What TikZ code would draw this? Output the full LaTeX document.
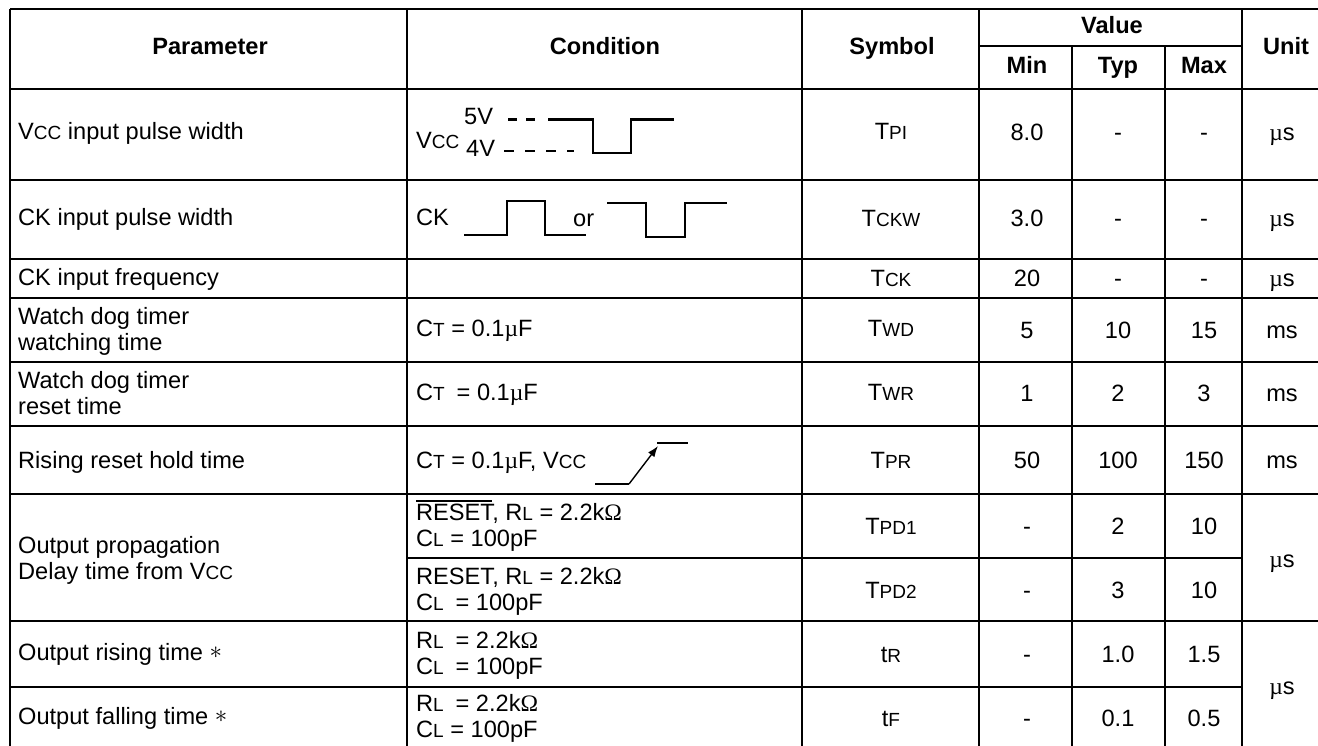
\documentclass[tikz,border=0pt]{standalone}
\usepackage{fontspec}
\setmainfont{Liberation Sans}
\newfontfamily\greekfont{Liberation Serif}
\usepackage{tikz}
\usetikzlibrary{arrows.meta}
\tikzset{>=latex}
\tikzset{
	rule/.style={line width=1.9pt},
	wave/.style={line width=2.5pt},
	txt/.style={anchor=base west, inner sep=0pt, align=left, yshift=-2pt},
	mid/.style={anchor=base, inner sep=0pt, yshift=-2pt},
	head/.style={anchor=base, inner sep=0pt, yshift=-2pt, font=\fontsize{23.6}{28}\selectfont\bfseries}
}
% smaller letters of the names (Vcc, Ct, Tpi ...)
\newcommand{\lo}[1]{{\fontsize{19}{19}\selectfont #1}}
\newcommand{\mic}{{\greekfont µ}}
\newcommand{\ohm}{{\greekfont Ω}}
\newcommand{\note}{\raisebox{2pt}{$*$}}

\begin{document}
\begin{tikzpicture}[x=1pt, y=-1pt, font=\fontsize{23.6}{25.5}\selectfont]
	\useasboundingbox (0,0) rectangle (1318,746);
	%\draw[help lines] (0,0) grid (1318,746);
	% table rules
	\draw[rule] (10,9) -- (1318,9);
	\draw[rule] (979,46) -- (1242,46);
	\draw[rule] (10,89) -- (1318,89);
	\draw[rule] (10,180) -- (1318,180);
	\draw[rule] (10,259) -- (1318,259);
	\draw[rule] (10,298) -- (1318,298);
	\draw[rule] (10,362) -- (1318,362);
	\draw[rule] (10,426) -- (1318,426);
	\draw[rule] (10,494) -- (1318,494);
	\draw[rule] (407,558) -- (1242,558);
	\draw[rule] (10,621) -- (1318,621);
	\draw[rule] (10,687) -- (1242,687);
	\draw[rule] (10,9) -- (10,746);
	\draw[rule] (407,9) -- (407,746);
	\draw[rule] (802,9) -- (802,746);
	\draw[rule] (979,9) -- (979,746);
	\draw[rule] (1072,46) -- (1072,746);
	\draw[rule] (1165,46) -- (1165,746);
	\draw[rule] (1242,9) -- (1242,746);
	% header
	\node[head] (hparam) at (210,53) {Parameter};
	\node[head] (hcond) at (605,53) {Condition};
	\node[head] (hsym) at (892,53) {Symbol};
	\node[head] (hval) at (1112,32) {Value};
	\node[head] (hmin) at (1027,72) {Min};
	\node[head] (htyp) at (1118,72) {Typ};
	\node[head] (hmax) at (1204,72) {Max};
	\node[head] (hunit) at (1286,53) {Unit};
	% parameter column
	\node[txt] (pvcc) at (18,138) {V\lo{CC} input pulse width};
	\node[txt] (pck) at (18,224) {CK input pulse width};
	\node[txt] (pfreq) at (18,284) {CK input frequency};
	\node[txt] (pwatch) at (18,348) {Watch dog timer\\watching time};
	\node[txt] (preset) at (18,412) {Watch dog timer\\reset time};
	\node[txt] (prise) at (18,466) {Rising reset hold time};
	\node[txt] (pdelay) at (18,577) {Output propagation\\Delay time from V\lo{CC}};
	\node[txt] (poutr) at (18,658) {Output rising time \note};
	\node[txt] (poutf) at (18,722) {Output falling time \note};
	% condition column
	\node[txt] (cvcc) at (416,147) {V\lo{CC}};
	\node[txt] (cfive) at (464,123) {5V};
	\node[txt] (cfour) at (466,155) {4V};
	\draw[wave, dash pattern=on 9pt off 9pt] (508,119.3) -- (540,119.3);
	\draw[wave] (548,119.3) -- (593,119.3) -- (593,153) -- (631,153) -- (631,119.3) -- (674,119.3);
	\draw[wave, dash pattern=on 10pt off 11pt] (504,151) -- (574,151);
	\node[txt] (cck) at (416,224) {CK};
	\draw[wave] (464,235) -- (507,235) -- (507,201) -- (545,201) -- (545,235) -- (586,235);
	\node[txt] (cor) at (573,225) {or};
	\draw[wave] (607,203) -- (646,203) -- (646,237) -- (685,237) -- (685,203) -- (727,203);
	\node[txt] (cwatch) at (416,335) {C\lo{T} = 0.1\mic F};
	\node[txt] (creset) at (416,398) {C\lo{T } = 0.1\mic F};
	\node[txt] (crise) at (416,466) {C\lo{T} = 0.1\mic F, V\lo{CC}};
	\coordinate (risefoot) at (629,484);
	\coordinate (risetop) at (658,446);
	\draw[wave] (595,484) -- (risefoot);
	\draw[-{Latex[length=11pt,width=8pt]}, line width=1.4pt] (risefoot) -- (risetop);
	\draw[wave] (657,443) -- (688,443);
	\node[txt] (cpdone) at (416,544) {\makebox[0pt][l]{\rule[19pt]{76pt}{1.4pt}}RESET, R\lo{L} = 2.2k\ohm\\C\lo{L} = 100pF};
	\node[txt] (cpdtwo) at (416,608) {RESET, R\lo{L} = 2.2k\ohm\\C\lo{L } = 100pF};
	\node[txt] (coutr) at (416,672) {R\lo{L } = 2.2k\ohm\\C\lo{L } = 100pF};
	\node[txt] (coutf) at (416,735) {R\lo{L } = 2.2k\ohm\\C\lo{L} = 100pF};
	% symbol column
	\node[mid] (spi) at (891,138) {T\lo{PI}};
	\node[mid] (sckw) at (891,225) {T\lo{CKW}};
	\node[mid] (sck) at (891,285) {T\lo{CK}};
	\node[mid] (swd) at (891,335) {T\lo{WD}};
	\node[mid] (swr) at (891,398) {T\lo{WR}};
	\node[mid] (spr) at (891,466) {T\lo{PR}};
	\node[mid] (spdone) at (891,532) {T\lo{PD1}};
	\node[mid] (spdtwo) at (891,596) {T\lo{PD2}};
	\node[mid] (str) at (891,660) {t\lo{R}};
	\node[mid] (stf) at (891,724) {t\lo{F}};
	% min
	\node[mid] (minpi) at (1027,139) {8.0};
	\node[mid] (minckw) at (1027,225) {3.0};
	\node[mid] (minck) at (1027,285) {20};
	\node[mid] (minwd) at (1027,336) {5};
	\node[mid] (minwr) at (1027,399) {1};
	\node[mid] (minpr) at (1027,466) {50};
	\node[mid] (minpdone) at (1027,532) {-};
	\node[mid] (minpdtwo) at (1027,596) {-};
	\node[mid] (mintr) at (1027,660) {-};
	\node[mid] (mintf) at (1027,724) {-};
	% typ
	\node[mid] (typpi) at (1118,139) {-};
	\node[mid] (typckw) at (1118,225) {-};
	\node[mid] (typck) at (1118,285) {-};
	\node[mid] (typwd) at (1118,336) {10};
	\node[mid] (typwr) at (1118,399) {2};
	\node[mid] (typpr) at (1118,466) {100};
	\node[mid] (typpdone) at (1118,532) {2};
	\node[mid] (typpdtwo) at (1118,596) {3};
	\node[mid] (typtr) at (1118,660) {1.0};
	\node[mid] (typtf) at (1118,724) {0.1};
	% max
	\node[mid] (maxpi) at (1204,139) {-};
	\node[mid] (maxckw) at (1204,225) {-};
	\node[mid] (maxck) at (1204,285) {-};
	\node[mid] (maxwd) at (1204,336) {15};
	\node[mid] (maxwr) at (1204,399) {3};
	\node[mid] (maxpr) at (1204,466) {150};
	\node[mid] (maxpdone) at (1204,532) {10};
	\node[mid] (maxpdtwo) at (1204,596) {10};
	\node[mid] (maxtr) at (1204,660) {1.5};
	\node[mid] (maxtf) at (1204,724) {0.5};
	% unit
	\node[mid] (upi) at (1282,139) {\mic s};
	\node[mid] (uckw) at (1282,225) {\mic s};
	\node[mid] (uck) at (1282,285) {\mic s};
	\node[mid] (uwd) at (1282,336) {ms};
	\node[mid] (uwr) at (1282,399) {ms};
	\node[mid] (upr) at (1282,466) {ms};
	\node[mid] (upd) at (1282,565) {\mic s};
	\node[mid] (uout) at (1282,692) {\mic s};
\end{tikzpicture}
\end{document}
